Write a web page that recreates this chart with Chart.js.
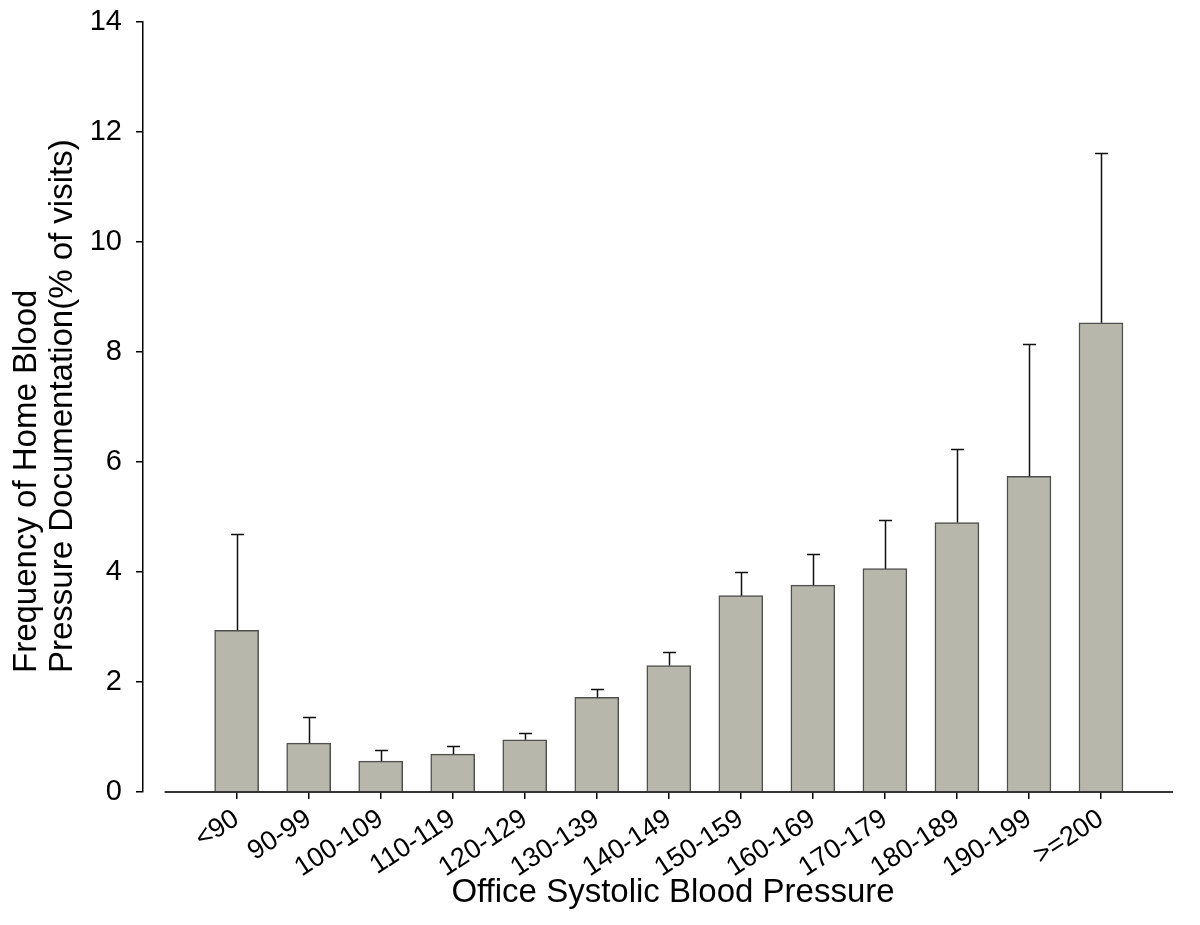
<!DOCTYPE html>
<html><head><meta charset="utf-8">
<script src="https://cdn.jsdelivr.net/npm/chart.js@4.4.1/dist/chart.umd.min.js"></script>
<style>html,body{margin:0;padding:0;background:#fff;} canvas{display:block;}</style>
</head><body>
<canvas id="c" width="1200" height="925"></canvas>
<script>
const categories = ['<90','90-99','100-109','110-119','120-129','130-139','140-149','150-159','160-169','170-179','180-189','190-199','>=200'];
const meanValues = [2.94, 0.89, 0.56, 0.69, 0.95, 1.72, 2.30, 3.57, 3.76, 4.06, 4.90, 5.74, 8.53];
const errorValues = [1.75, 0.48, 0.20, 0.14, 0.13, 0.15, 0.25, 0.43, 0.56, 0.88, 1.33, 2.41, 3.08];
const yTickValues = [0, 2, 4, 6, 8, 10, 12, 14];
const xTitle = 'Office Systolic Blood Pressure';
const yTitleLines = ['Frequency of Home Blood', 'Pressure Documentation(% of visits)'];

const FONT = "'Liberation Sans', Arial, Helvetica, sans-serif";

const errorBarPlugin = {
  id: 'errorBars',
  afterDatasetsDraw(chart) {
    const ctx = chart.ctx, xs = chart.scales.x, ys = chart.scales.y;
    ctx.save();
    ctx.strokeStyle = '#111';
    ctx.lineWidth = 1.5;
    meanValues.forEach((v, i) => {
      const x = Math.round(xs.getPixelForValue(i)) + 0.5;
      const y1 = ys.getPixelForValue(v);
      const y2 = Math.round(ys.getPixelForValue(v + errorValues[i])) + 0.5;
      ctx.beginPath();
      ctx.moveTo(x, y1); ctx.lineTo(x, y2);
      ctx.moveTo(x - 6.5, y2); ctx.lineTo(x + 6.5, y2);
      ctx.stroke();
    });
    // x axis baseline (starts one category before the first bar)
    const yb = ys.getPixelForValue(0);
    ctx.strokeStyle = '#333';
    ctx.lineWidth = 2;
    ctx.beginPath();
    ctx.moveTo(xs.getPixelForValue(-1), yb);
    ctx.lineTo(xs.getPixelForValue(13), yb);
    ctx.stroke();
    ctx.restore();
  }
};

const titlePlugin = {
  id: 'axisTitles',
  afterDraw(chart) {
    const ctx = chart.ctx, area = chart.chartArea;
    ctx.save();
    ctx.fillStyle = '#000';
    ctx.font = '33px ' + FONT;
    ctx.textAlign = 'center';
    ctx.textBaseline = 'alphabetic';
    ctx.fillText(xTitle, 673, 902);
    ctx.textAlign = 'left';
    const baselines = [36, 71.5];
    yTitleLines.forEach((t, i) => {
      ctx.save();
      ctx.translate(baselines[i], area.bottom - 119);
      ctx.rotate(-Math.PI / 2);
      ctx.fillText(t, 0, 0);
      ctx.restore();
    });
    ctx.restore();
  }
};

new Chart(document.getElementById('c'), {
  type: 'bar',
  data: {
    datasets: [{
      data: meanValues.map((v, i) => ({ x: i, y: v })),
      backgroundColor: '#b7b7ab',
      borderColor: '#4f4f4f',
      borderWidth: 1.5,
      barThickness: 44
    }]
  },
  options: {
    responsive: false,
    animation: false,
    events: [],
    layout: { padding: { left: 0, right: 27, top: 22, bottom: 0 } },
    plugins: { legend: { display: false }, tooltip: { enabled: false } },
    scales: {
      x: {
        type: 'linear',
        offset: false,
        min: -1.3,
        max: 13,
        afterBuildTicks: s => { s.ticks = categories.map((c, i) => ({ value: i })); },
        afterFit: s => { s.height = 133; s.paddingLeft = 0; s.paddingRight = 0; },
        ticks: {
          autoSkip: false, minRotation: 33, maxRotation: 33, padding: 4,
          color: '#000', font: { family: FONT, size: 27 },
          callback: v => categories[v]
        },
        grid: { offset: false, drawOnChartArea: false, drawTicks: true, tickLength: 7, color: '#000', lineWidth: 1.5 },
        border: { display: false }
      },
      y: {
        min: 0, max: 14,
        afterBuildTicks: s => { s.ticks = yTickValues.map(v => ({ value: v })); },
        afterFit: s => { s.width = 143; s.paddingTop = 0; s.paddingBottom = 0; },
        ticks: { padding: 14, color: '#000', font: { family: FONT, size: 29 } },
        grid: { drawOnChartArea: false, tickLength: 7, color: '#000', lineWidth: 1.5 },
        border: { color: '#000', width: 1.5 }
      }
    }
  },
  plugins: [errorBarPlugin, titlePlugin]
});
</script>
</body></html>
